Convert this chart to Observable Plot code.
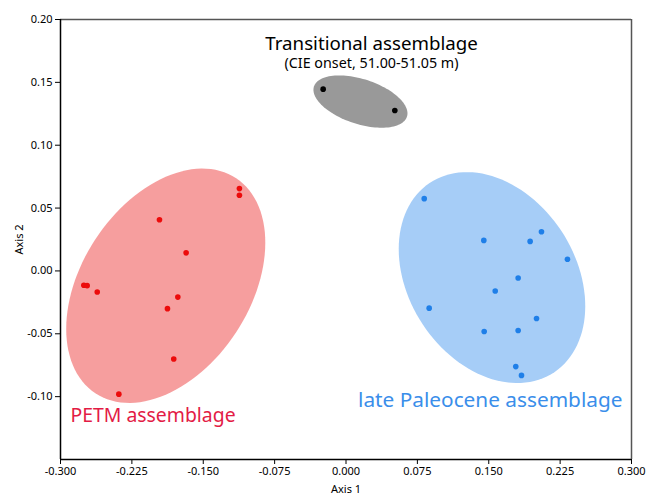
<!DOCTYPE html>
<html>
<head>
<meta charset="utf-8">
<script src="https://cdn.jsdelivr.net/npm/d3@7"></script>
<script src="https://cdn.jsdelivr.net/npm/@observablehq/plot@0.6"></script>
<style>
  html, body { margin: 0; padding: 0; background: #fff; }
  #chart svg { display: block; }
</style>
</head>
<body>
<div id="chart"></div>
<script>
// ---- data ----
const petmX = [-0.112, -0.112, -0.196, -0.168, -0.2755, -0.272, -0.2614, -0.1767, -0.1876, -0.181, -0.2387];
const petmY = [0.0655, 0.0602, 0.0407, 0.0144, -0.0114, -0.0117, -0.0168, -0.0208, -0.030, -0.070, -0.098];

const lateX = [0.0822, 0.1448, 0.1935, 0.2054, 0.2327, 0.1809, 0.1568, 0.0874, 0.2002, 0.1452, 0.1809, 0.1784, 0.1844];
const lateY = [0.0575, 0.0243, 0.0235, 0.0312, 0.0093, -0.0056, -0.016, -0.0296, -0.0378, -0.0482, -0.0474, -0.0761, -0.0831];

const transX = [-0.024, 0.0513];
const transY = [0.1446, 0.1276];

// ellipse parameters (data units): centre, spread along x and y, correlation
const ellGroups = ["PETM", "late", "trans"];
const ellCx = [-0.1894, 0.1534, 0.0152];
const ellCy = [-0.0118, -0.0053, 0.1347];
const ellSx = [0.1046, 0.0980, 0.0494];
const ellSy = [0.0932, 0.0839, 0.0208];
const ellRho = [0.368, -0.2705, -0.45];

const xTicks = [-0.300, -0.225, -0.150, -0.075, 0.000, 0.075, 0.150, 0.225, 0.300];
const yTicks = [-0.10, -0.05, 0.00, 0.05, 0.10, 0.15, 0.20];

const labelText = ["Transitional assemblage", "(CIE onset, 51.00-51.05 m)", "PETM assemblage", "late Paleocene assemblage"];
const labelX = [0.0268, 0.0268, -0.2895, 0.2905];
const labelY = [0.1808, 0.1650, -0.1155, -0.1028];

// ---- build ----
const fillColors = {PETM: "#f69e9e", late: "#a6cdf7", trans: "#999999"};
const pointColors = {PETM: "#ec0b0b", late: "#1f7fe8", trans: "#000000"};

function ellipsePts(i) {
  const out = [];
  const n = 120;
  const r = ellRho[i], k = Math.sqrt(1 - r * r);
  for (let j = 0; j < n; j++) {
    const t = (2 * Math.PI * j) / n;
    out.push({
      x: ellCx[i] + ellSx[i] * Math.cos(t),
      y: ellCy[i] + ellSy[i] * (r * Math.cos(t) + k * Math.sin(t))
    });
  }
  return out;
}

const petm = petmX.map((x, i) => ({x, y: petmY[i]}));
const late = lateX.map((x, i) => ({x, y: lateY[i]}));
const trans = transX.map((x, i) => ({x, y: transY[i]}));
const labels = labelText.map((t, i) => ({t, x: labelX[i], y: labelY[i]}));

const font = "'Noto Sans', 'Open Sans', sans-serif";

const chart = Plot.plot({
  width: 650,
  height: 496,
  marginLeft: 60,
  marginRight: 19,
  marginTop: 19,
  marginBottom: 37,
  style: {fontFamily: font, fontSize: "11px", color: "#000", background: "#fff", overflow: "visible"},
  x: {domain: [-0.3, 0.3], ticks: xTicks, tickFormat: d => d.toFixed(3), tickSize: 5, tickPadding: 3,
      label: "Axis 1", labelAnchor: "center", labelOffset: 33, labelArrow: "none"},
  y: {domain: [-0.15, 0.2], ticks: yTicks, tickFormat: d => d.toFixed(2), tickSize: 5, tickPadding: 3,
      label: "Axis 2", labelAnchor: "center", labelOffset: 45, labelArrow: "none"},
  marks: [
    ...ellGroups.map((g, i) => Plot.line(ellipsePts(i), {x: "x", y: "y", fill: fillColors[g], stroke: "none", curve: "linear-closed"})),
    Plot.dot(petm, {x: "x", y: "y", r: 2.8, fill: pointColors.PETM, stroke: "none"}),
    Plot.dot(late, {x: "x", y: "y", r: 2.8, fill: pointColors.late, stroke: "none"}),
    Plot.dot(trans, {x: "x", y: "y", r: 2.8, fill: pointColors.trans, stroke: "none"}),
    Plot.ruleY([0.2], {stroke: "#555", strokeWidth: 1.5}),
    Plot.ruleX([0.3], {stroke: "#555", strokeWidth: 1.5}),
    Plot.ruleX([-0.3], {stroke: "#000", strokeWidth: 1.5}),
    Plot.ruleY([-0.15], {stroke: "#000", strokeWidth: 1.5}),
    Plot.text([labels[0]], {x: "x", y: "y", text: "t", fontSize: 18.7, fill: "#000", textAnchor: "middle"}),
    Plot.text([labels[1]], {x: "x", y: "y", text: "t", fontSize: 14.3, fill: "#000", textAnchor: "middle"}),
    Plot.text([labels[2]], {x: "x", y: "y", text: "t", fontSize: 19.4, fill: "#e31b45", textAnchor: "start"}),
    Plot.text([labels[3]], {x: "x", y: "y", text: "t", fontSize: 20.8, fill: "#3a8eea", textAnchor: "end"})
  ]
});
document.getElementById("chart").appendChild(chart);
</script>
</body>
</html>
